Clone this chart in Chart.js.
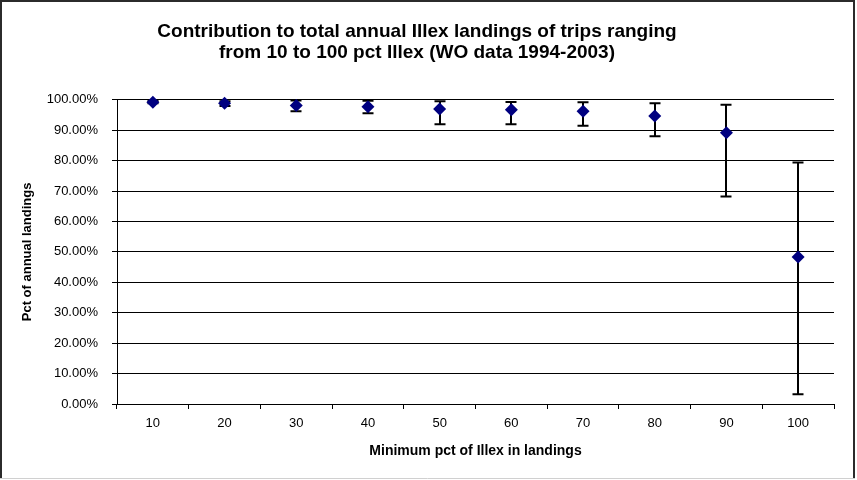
<!DOCTYPE html>
<html>
<head>
<meta charset="utf-8">
<script src="https://cdn.jsdelivr.net/npm/chart.js@4/dist/chart.umd.min.js"></script>
<style>
  html, body { margin: 0; padding: 0; background: #fff; }
  #wrap { width: 857px; height: 480px; position: relative; }
</style>
</head>
<body>
<div id="wrap"><canvas id="c" width="857" height="480"></canvas></div>
<script>
// Data
const categories = ['10', '20', '30', '40', '50', '60', '70', '80', '90', '100'];
const meanPct    = [99.2, 98.9, 98.1, 97.7, 97.0, 96.7, 96.2, 94.7, 89.2, 48.3];
const errHigh    = [99.6, 99.5, 99.8, 99.7, 99.5, 99.3, 99.2, 98.9, 98.4, 79.4];
const errLow     = [98.9, 98.0, 96.2, 95.6, 92.0, 92.0, 91.5, 88.0, 68.2, 3.2];
const titleLines = ['Contribution to total annual Illex landings of trips ranging',
                    'from 10 to 100 pct Illex (WO data 1994-2003)'];
const xTitle = 'Minimum pct of Illex in landings';
const yTitle = 'Pct of annual landings';

const FONT = "'Liberation Sans', Arial, sans-serif";

const errorBars = {
  id: 'errorBars',
  beforeDatasetsDraw(chart) {
    const ctx = chart.ctx;
    const xs = chart.scales.x, ys = chart.scales.y;
    ctx.save();
    ctx.strokeStyle = '#000';
    ctx.lineWidth = 2;
    const cap = 5.5;
    for (let i = 0; i < categories.length; i++) {
      const x = Math.round(xs.getPixelForValue(i));
      const yt = ys.getPixelForValue(errHigh[i]);
      const yb = ys.getPixelForValue(errLow[i]);
      ctx.beginPath();
      ctx.moveTo(x, yt); ctx.lineTo(x, yb);
      ctx.moveTo(x - cap, yt); ctx.lineTo(x + cap, yt);
      ctx.moveTo(x - cap, yb); ctx.lineTo(x + cap, yb);
      ctx.stroke();
    }
    ctx.restore();
  }
};

const frame = {
  id: 'frame',
  beforeDraw(chart) {
    const ctx = chart.ctx;
    ctx.save();
    ctx.fillStyle = '#fff';
    ctx.fillRect(0, 0, chart.width, chart.height);
    ctx.restore();
  },
  afterDraw(chart) {
    const ctx = chart.ctx;
    ctx.save();
    ctx.strokeStyle = '#2b2b2b';
    ctx.lineWidth = 2;
    ctx.beginPath();
    ctx.moveTo(1, 478); ctx.lineTo(1, 1); ctx.lineTo(854, 1); ctx.lineTo(854, 478);
    ctx.stroke();
    ctx.strokeStyle = '#d0d0d0';
    ctx.lineWidth = 1;
    ctx.beginPath();
    ctx.moveTo(0, 478.5); ctx.lineTo(855, 478.5);
    ctx.stroke();
    ctx.restore();
  }
};

new Chart(document.getElementById('c'), {
  type: 'line',
  data: {
    labels: categories,
    datasets: [{
      data: meanPct,
      showLine: false,
      clip: false,
      pointStyle: 'rectRot',
      pointRadius: 6.5,
      pointHoverRadius: 6.5,
      backgroundColor: '#000080',
      borderColor: '#000080',
      borderWidth: 0
    }]
  },
  options: {
    responsive: false,
    animation: false,
    events: [],
    layout: { padding: { left: 0, right: 23, top: 0, bottom: 20 } },
    plugins: {
      legend: { display: false },
      tooltip: { enabled: false },
      title: {
        display: true,
        text: titleLines,
        color: '#000',
        font: { family: FONT, size: 19, weight: 'bold', lineHeight: 1.1 },
        padding: { top: 21, bottom: 37 }
      }
    },
    scales: {
      x: {
        type: 'category',
        offset: true,
        grid: { offset: true, drawOnChartArea: false, color: '#000', tickLength: 5, tickWidth: 1 },
        border: { display: true, color: '#000', width: 1 },
        ticks: { color: '#000', font: { family: FONT, size: 13 }, padding: 7, maxRotation: 0 },
        title: { display: true, text: xTitle, color: '#000', font: { family: FONT, size: 14, weight: 'bold' }, padding: { top: 8, bottom: 0 } },
        afterFit(s) { s.height = 56; }
      },
      y: {
        min: 0, max: 100,
        grid: { color: '#000', tickLength: 5, lineWidth: 1 },
        border: { display: true, color: '#000', width: 1 },
        ticks: { stepSize: 10, color: '#000', font: { family: FONT, size: 13 }, padding: 14,
                 callback: v => v.toFixed(2) + '%' },
        title: { display: true, text: yTitle, color: '#000', font: { family: FONT, size: 13, weight: 'bold' }, padding: { top: 20, bottom: 0 } },
        afterFit(s) { s.width = 117; }
      }
    }
  },
  plugins: [frame, errorBars]
});
</script>
</body>
</html>
